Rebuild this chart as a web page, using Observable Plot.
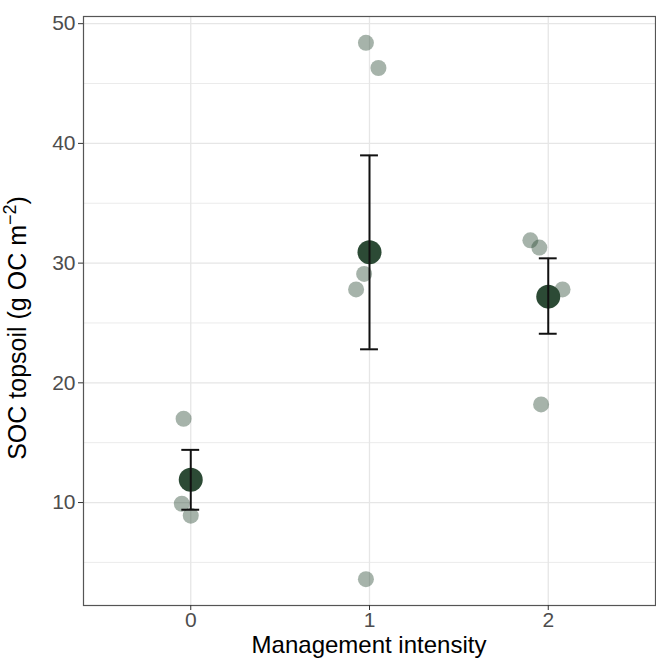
<!DOCTYPE html>
<html><head><meta charset="utf-8">
<script src="https://cdn.jsdelivr.net/npm/d3@7"></script>
<script src="https://cdn.jsdelivr.net/npm/@observablehq/plot@0.6"></script>
<style>body{margin:0;background:#fff} #chart svg{display:block}</style>
</head><body><div id="chart"></div>
<script>
// Summary per management intensity group
const groups = [0, 1, 2];
const means = [11.9, 30.9, 27.2];
const lower = [9.4, 22.8, 24.1];
const upper = [14.4, 39.0, 30.4];
// Individual (jittered) observations
const obsX = [-0.04, -0.05, 0.00, 0.98, 1.05, 0.97, 0.925, 0.98, 1.90, 1.95, 2.08, 1.96];
const obsY = [17.0, 9.9, 8.9, 48.4, 46.3, 29.1, 27.8, 3.6, 31.9, 31.3, 27.8, 18.2];
// Axis ticks
const xTicks = [0, 1, 2];
const yTicks = [10, 20, 30, 40, 50];
const yMinor = [5, 15, 25, 35, 45];

const summary = groups.map((g, i) => ({g, mean: means[i], lo: lower[i], hi: upper[i]}));
const obs = obsX.map((x, i) => ({x, y: obsY[i]}));
const capHalf = 0.05;

const dark = "#2c4a35";

const plot = Plot.plot({
  width: 656,
  height: 659,
  marginLeft: 83,
  marginRight: 1,
  marginTop: 16,
  marginBottom: 54,
  style: {fontFamily: "'Liberation Sans', Arial, sans-serif", background: "#fff"},
  x: {domain: [-0.6, 2.6], label: null},
  y: {domain: [1.4, 50.6], label: null},
  marks: [
    Plot.gridY(yMinor, {stroke: "#ebebeb", strokeOpacity: 1, strokeWidth: 1}),
    Plot.gridY(yTicks, {stroke: "#e6e6e6", strokeOpacity: 1, strokeWidth: 1.3}),
    Plot.gridX(xTicks, {stroke: "#e6e6e6", strokeOpacity: 1, strokeWidth: 1.3}),
    Plot.dot(obs, {x: "x", y: "y", r: 8, fill: dark, fillOpacity: 0.42, stroke: null}),
    Plot.dot(summary, {x: "g", y: "mean", r: 12, fill: dark, stroke: null}),
    Plot.ruleX(summary, {x: "g", y1: "lo", y2: "hi", stroke: "#111", strokeWidth: 2}),
    Plot.ruleY(summary, {y: "hi", x1: d => d.g - capHalf, x2: d => d.g + capHalf, stroke: "#111", strokeWidth: 2}),
    Plot.ruleY(summary, {y: "lo", x1: d => d.g - capHalf, x2: d => d.g + capHalf, stroke: "#111", strokeWidth: 2}),
    Plot.frame({stroke: "#555", strokeWidth: 1.2}),
    Plot.axisY(yTicks, {tickSize: 5, tickPadding: 3, fontSize: 21, color: "#4d4d4d", stroke: "#333", label: null}),
    Plot.axisX(xTicks, {tickSize: 5, tickPadding: 2, fontSize: 21, color: "#4d4d4d", stroke: "#333", label: null, tickFormat: d3.format("d")})
  ]
});
document.getElementById("chart").appendChild(plot);

const svg = d3.select(plot);
svg.append("text")
  .attr("x", 369).attr("y", 653)
  .attr("text-anchor", "middle")
  .attr("font-size", 24)
  .attr("fill", "#000")
  .text("Management intensity");

const yt = svg.append("text")
  .attr("transform", "translate(26,328) rotate(-90)")
  .attr("text-anchor", "middle")
  .attr("font-size", 25)
  .attr("fill", "#000");
yt.append("tspan").text("SOC topsoil (g OC m");
yt.append("tspan").attr("dy", -10).attr("font-size", 18).text("\u22122");
yt.append("tspan").attr("dy", 10).text(")");
</script>
</body></html>
